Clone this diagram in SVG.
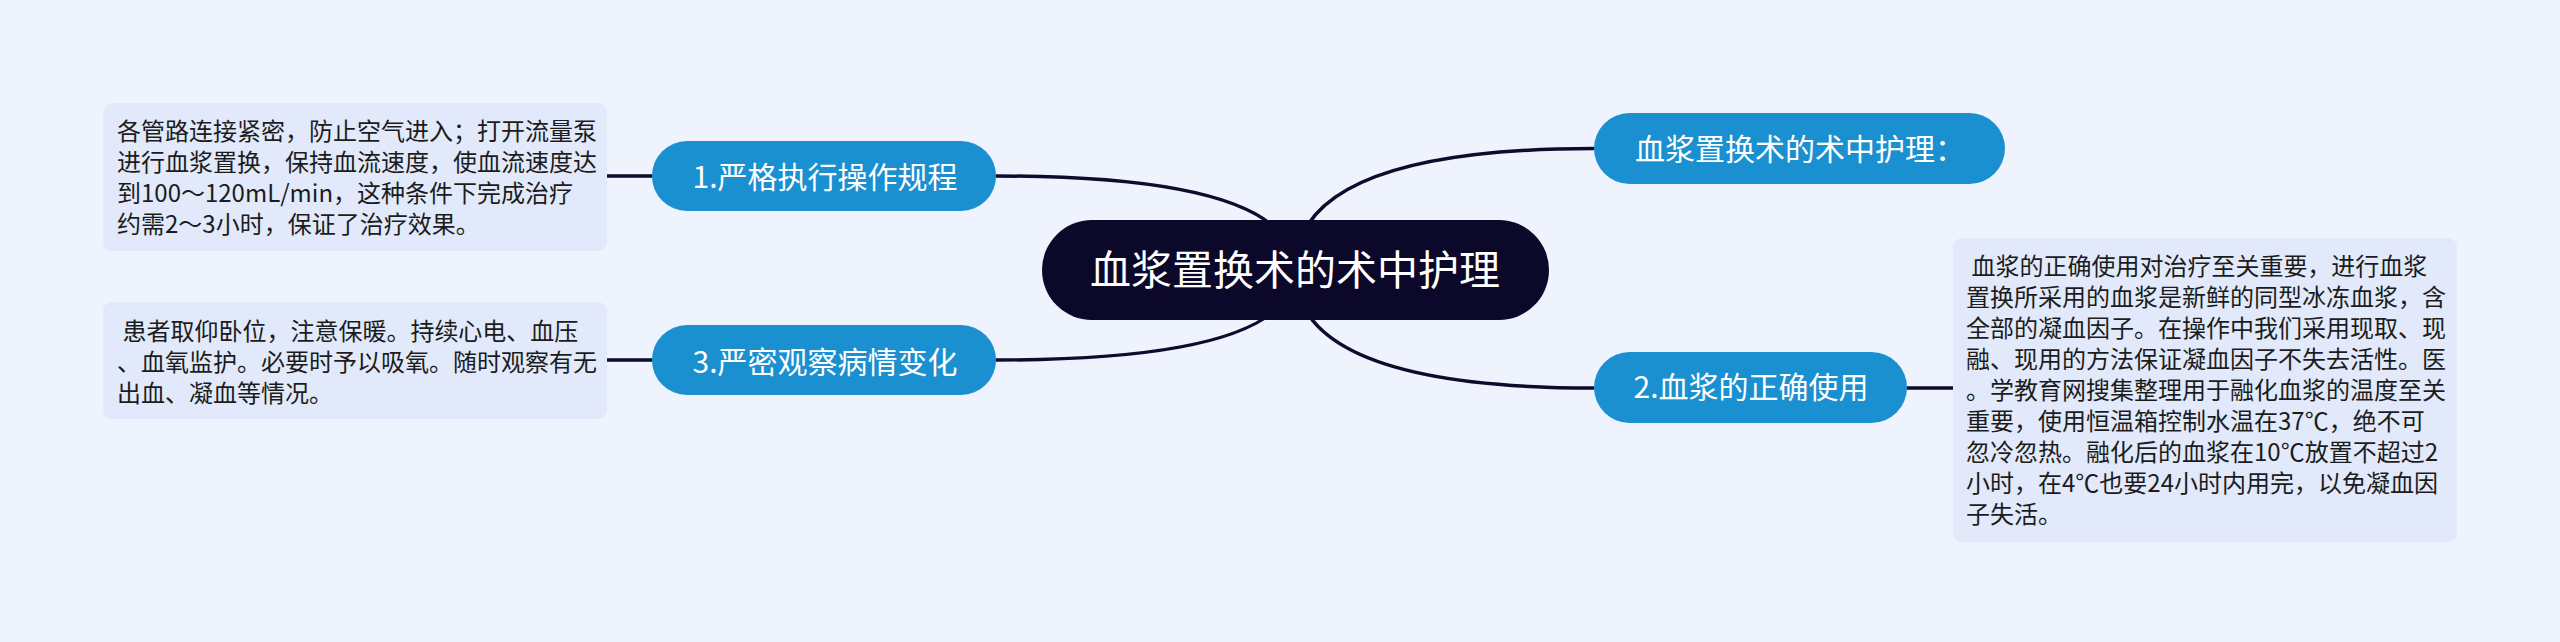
<svg xmlns="http://www.w3.org/2000/svg" width="2560" height="642" viewBox="0 0 2560 642">
<style>
.bg{fill:#eef3fe}
.leaf rect{fill:#e1e9fa}
.leaf text{font-family:"Noto Sans CJK SC","Liberation Sans",sans-serif;font-size:24px;fill:#1c1c1c;white-space:pre}
.sub rect{fill:#1b90d0}
.sub text{font-family:"Noto Sans CJK SC","Liberation Sans",sans-serif;font-size:30px;fill:#fff;text-anchor:middle}
.root rect{fill:#0b0829}
.root text{font-family:"Noto Sans CJK SC","Liberation Sans",sans-serif;font-size:41px;fill:#fff;text-anchor:middle}
.conn path{fill:none;stroke:#0e0c2c;stroke-width:3.5;stroke-linecap:round}
</style>
<rect class="bg" x="0" y="0" width="2560" height="642"/>
<g id="connectors" class="conn">
<path d="M1295 270 Q1295 176 996 176"/>
<path d="M1295 270 Q1295 360 996 360"/>
<path d="M1295 270 Q1295 148.5 1594 148.5"/>
<path d="M1295 270 Q1295 388 1594 388"/>
<path d="M607 176 L652 176"/>
<path d="M607 360 L652 360"/>
<path d="M1907 388 L1953 388"/>
</g>
<g id="root" class="root">
<rect x="1042" y="220" width="507" height="100" rx="50"/>
<text x="1295" y="285">血浆置换术的术中护理</text>
</g>
<g id="node-1" class="sub">
<rect x="652" y="141" width="344" height="70" rx="35"/>
<text x="825" y="188">1.严格执行操作规程</text>
</g>
<g id="node-3" class="sub">
<rect x="652" y="325" width="344" height="70" rx="35"/>
<text x="825" y="373">3.严密观察病情变化</text>
</g>
<g id="node-r1" class="sub">
<rect x="1594" y="113" width="411" height="71" rx="35.5"/>
<text x="1800" y="160">血浆置换术的术中护理：</text>
</g>
<g id="node-2" class="sub">
<rect x="1594" y="352" width="313" height="71" rx="35.5"/>
<text x="1751" y="398">2.血浆的正确使用</text>
</g>
<g id="leaf-1" class="leaf">
<rect x="103" y="103" width="504" height="148" rx="9"/>
<text x="117" y="140">各管路连接紧密，防止空气进入；打开流量泵</text>
<text x="117" y="171">进行血浆置换，保持血流速度，使血流速度达</text>
<text x="117" y="202">到100～120mL/min，这种条件下完成治疗</text>
<text x="117" y="233">约需2～3小时，保证了治疗效果。</text>
</g>
<g id="leaf-3" class="leaf">
<rect x="103" y="302" width="504" height="117" rx="9"/>
<text x="117" y="340"> 患者取仰卧位，注意保暖。持续心电、血压</text>
<text x="117" y="371">、血氧监护。必要时予以吸氧。随时观察有无</text>
<text x="117" y="402">出血、凝血等情况。</text>
</g>
<g id="leaf-2" class="leaf">
<rect x="1953" y="238" width="504" height="304" rx="9"/>
<text x="1966" y="275"> 血浆的正确使用对治疗至关重要，进行血浆</text>
<text x="1966" y="306">置换所采用的血浆是新鲜的同型冰冻血浆，含</text>
<text x="1966" y="337">全部的凝血因子。在操作中我们采用现取、现</text>
<text x="1966" y="368">融、现用的方法保证凝血因子不失去活性。医</text>
<text x="1966" y="399">。学教育网搜集整理用于融化血浆的温度至关</text>
<text x="1966" y="430">重要，使用恒温箱控制水温在37℃，绝不可</text>
<text x="1966" y="461">忽冷忽热。融化后的血浆在10℃放置不超过2</text>
<text x="1966" y="492">小时，在4℃也要24小时内用完，以免凝血因</text>
<text x="1966" y="523">子失活。</text>
</g>
</svg>
